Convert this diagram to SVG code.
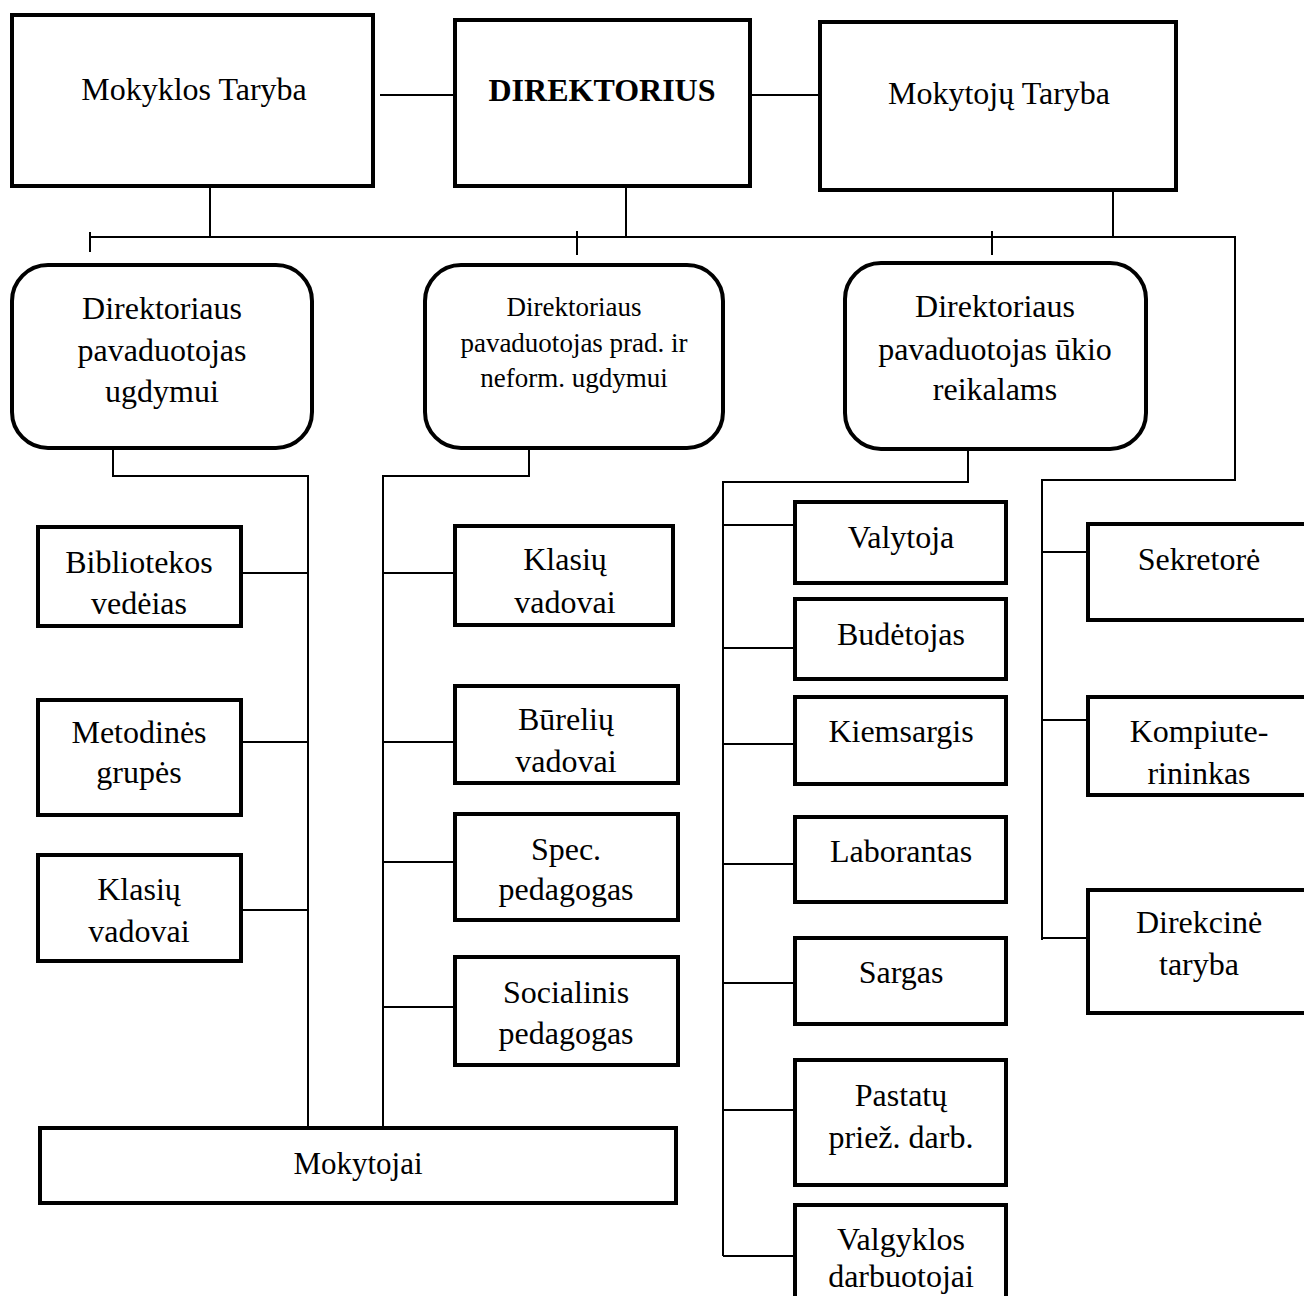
<svg xmlns="http://www.w3.org/2000/svg" width="1304" height="1296" viewBox="0 0 1304 1296">
<style>
.box{fill:#fff;stroke:#000;stroke-width:4}
.ln{fill:none;stroke:#000;stroke-width:2}
text{font-family:"Liberation Serif","Times New Roman",serif;font-size:32px;fill:#000;text-anchor:middle}
.b{font-weight:bold}
.s{font-size:27px}
</style>
<rect width="1304" height="1296" fill="#fff"/>
<g id="connectors" class="ln">
<path d="M380 95H455M750 95H820"/>
<path d="M210 187V237M626 186V237M1113 190V237"/>
<path d="M90 237H1235V480H1042V940"/>
<path d="M90 232V252M577 231V255M992 231V255"/>
<path d="M113 448V476H308V1128"/>
<path d="M529 448V476H383V1128"/>
<path d="M968 449V482H723V1256"/>
<path d="M241 573H308M241 742H308M241 910H308"/>
<path d="M383 573H455M383 742H455M383 862H455M383 1007H455"/>
<path d="M723 525H795M723 648H795M723 744H795M723 864H795M723 983H795M723 1110H795M723 1256H795"/>
<path d="M1042 552H1088M1042 720H1088M1042 938H1088"/>
</g>
<g id="mokyklos-taryba"><rect class="box" x="12" y="15" width="361" height="171"/><text x="194" y="100">Mokyklos Taryba</text></g>
<g id="direktorius"><rect class="box" x="455" y="20" width="295" height="166"/><text class="b" x="602" y="101">DIREKTORIUS</text></g>
<g id="mokytoju-taryba"><rect class="box" x="820" y="22" width="356" height="168"/><text x="999" y="104">Mokytojų Taryba</text></g>
<g id="pav-ugdymui"><rect class="box" x="12" y="265" width="300" height="183" rx="36"/><text x="162" y="319">Direktoriaus</text><text x="162" y="361">pavaduotojas</text><text x="162" y="402">ugdymui</text></g>
<g id="pav-prad"><rect class="box" x="425" y="265" width="298" height="183" rx="36"/><text class="s" x="574" y="316">Direktoriaus</text><text class="s" x="574" y="352">pavaduotojas prad. ir</text><text class="s" x="574" y="387">neform. ugdymui</text></g>
<g id="pav-ukio"><rect class="box" x="845" y="263" width="301" height="186" rx="36"/><text x="995" y="317">Direktoriaus</text><text x="995" y="360">pavaduotojas ūkio</text><text x="995" y="400">reikalams</text></g>
<g id="bibliotekos"><rect class="box" x="38" y="527" width="203" height="99"/><text x="139" y="573">Bibliotekos</text><text x="139" y="614">vedėias</text></g>
<g id="metodines"><rect class="box" x="38" y="700" width="203" height="115"/><text x="139" y="743">Metodinės</text><text x="139" y="783">grupės</text></g>
<g id="klasiu-kaire"><rect class="box" x="38" y="855" width="203" height="106"/><text x="139" y="900">Klasių</text><text x="139" y="942">vadovai</text></g>
<g id="klasiu-vidurys"><rect class="box" x="455" y="526" width="218" height="99"/><text x="565" y="570">Klasių</text><text x="565" y="613">vadovai</text></g>
<g id="bureliu"><rect class="box" x="455" y="686" width="223" height="97"/><text x="566" y="730">Būrelių</text><text x="566" y="772">vadovai</text></g>
<g id="spec-ped"><rect class="box" x="455" y="814" width="223" height="106"/><text x="566" y="860">Spec.</text><text x="566" y="900">pedagogas</text></g>
<g id="soc-ped"><rect class="box" x="455" y="957" width="223" height="108"/><text x="566" y="1003">Socialinis</text><text x="566" y="1044">pedagogas</text></g>
<g id="mokytojai"><rect class="box" x="40" y="1128" width="636" height="75"/><text x="358" y="1174" style="font-size:31px">Mokytojai</text></g>
<g id="valytoja"><rect class="box" x="795" y="502" width="211" height="81"/><text x="901" y="548">Valytoja</text></g>
<g id="budetojas"><rect class="box" x="795" y="599" width="211" height="80"/><text x="901" y="645">Budėtojas</text></g>
<g id="kiemsargis"><rect class="box" x="795" y="697" width="211" height="87"/><text x="901" y="742">Kiemsargis</text></g>
<g id="laborantas"><rect class="box" x="795" y="817" width="211" height="85"/><text x="901" y="862">Laborantas</text></g>
<g id="sargas"><rect class="box" x="795" y="938" width="211" height="86"/><text x="901" y="983">Sargas</text></g>
<g id="pastatu"><rect class="box" x="795" y="1060" width="211" height="125"/><text x="901" y="1106">Pastatų</text><text x="901" y="1148">priež. darb.</text></g>
<g id="valgyklos"><rect class="box" x="795" y="1205" width="211" height="100"/><text x="901" y="1250">Valgyklos</text><text x="901" y="1287">darbuotojai</text></g>
<g id="sekretore"><rect class="box" x="1088" y="524" width="230" height="96"/><text x="1199" y="570">Sekretorė</text></g>
<g id="kompiuterininkas"><rect class="box" x="1088" y="697" width="230" height="98"/><text x="1199" y="742">Kompiute-</text><text x="1199" y="784">rininkas</text></g>
<g id="direkcine"><rect class="box" x="1088" y="890" width="230" height="123"/><text x="1199" y="933">Direkcinė</text><text x="1199" y="975">taryba</text></g>
</svg>
